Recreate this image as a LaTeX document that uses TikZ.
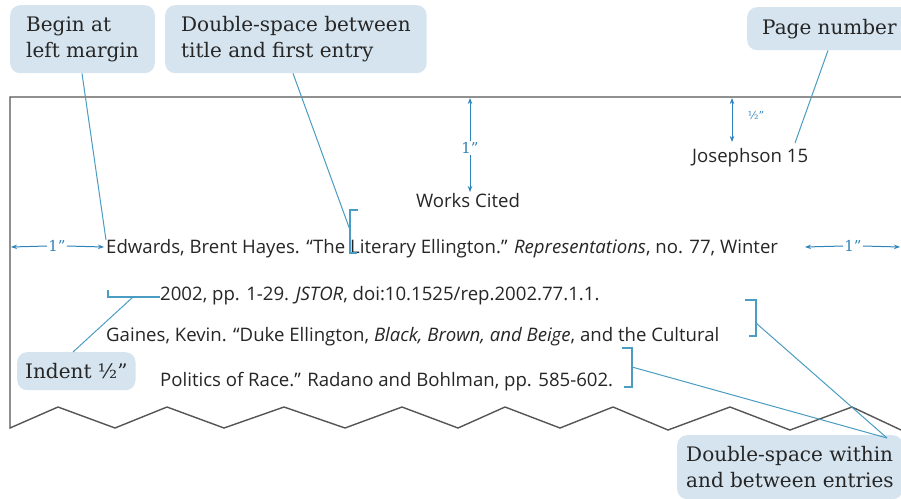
\documentclass[tikz,border=0pt]{standalone}
\usepackage{fontspec}
\setmainfont{DejaVu Serif}
\setsansfont{Open Sans}
\usetikzlibrary{arrows.meta}
\definecolor{callfill}{HTML}{D5E4EF}
\definecolor{leader}{HTML}{4A9CC2}
\definecolor{dimblue}{HTML}{2E84BA}
\definecolor{pageline}{HTML}{555555}
\definecolor{doctext}{HTML}{262626}
\tikzset{
  callout/.style={fill=callfill, rounded corners=10pt, text=doctext, align=left,
    font=\fontsize{20}{26}\selectfont, anchor=north west, inner ysep=0pt},
  docline/.style={anchor=base west, inner sep=0pt, text=doctext,
    font=\sffamily\fontsize{18.6}{20}\selectfont},
  leaderline/.style={draw=leader, line width=1pt},
  bracketline/.style={draw=leader, line width=1.2pt},
  dimarrow/.style={draw=dimblue, line width=1pt, -{Stealth[length=6pt,width=4.5pt]}},
  dimlabel/.style={text=dimblue, font=\fontsize{15}{15}\selectfont, inner sep=1pt},
  pageedge/.style={draw=pageline, line width=1.4pt, line join=miter}
}
\begin{document}
\begin{tikzpicture}[x=1pt,y=-1pt]
\useasboundingbox (0,0) rectangle (901,498);
\fill[white] (0,0) rectangle (901,498);

% page outline with torn (zigzag) bottom
\draw[pageedge] (901,97) -- (10,97) -- (10,428) -- (58,407) -- (115,428) -- (167,407)
  -- (224,428) -- (284,407) -- (345,428) -- (402,407) -- (458,428) -- (505,407)
  -- (560,428) -- (613,407) -- (668,430) -- (730,407) -- (790,430) -- (852,407) -- (901,430);

% callouts
\node[callout, minimum height=68pt, inner xsep=16pt]
  (begin) at (10,5) {Begin at\\left margin};
\node[callout, minimum height=68pt, inner xsep=16pt]
  (dsbetween) at (165,5) {Double-space between\\title and first entry};
\node[callout, minimum height=43pt, inner xsep=15pt]
  (pagenum) at (747,7) {Page number};
\node[callout, minimum height=38pt, inner xsep=8pt]
  (indent) at (17,352) {Indent ½”};
\node[callout, minimum height=64pt, inner xsep=9pt]
  (within) at (677,435) {Double-space within\\and between entries};

% document text
\node[anchor=base, inner sep=0pt, text=doctext, font=\sffamily\fontsize{18.6}{20}\selectfont]
  (title) at (468,207) {Works Cited};
\node[docline] (pnum) at (692,162) {Josephson 15};
\node[docline] (l1) at (106,253) {Edwards, Brent Hayes. “The Literary Ellington.” \textit{Representations}, no. 77, Winter};
\node[docline] (l2) at (160,300) {2002, pp. 1-29. \textit{JSTOR}, doi:10.1525/rep.2002.77.1.1.};
\node[docline] (l3) at (106,341) {Gaines, Kevin. “Duke Ellington, \textit{Black, Brown, and Beige}, and the Cultural};
\node[docline] (l4) at (160,386) {Politics of Race.” Radano and Bohlman, pp. 585-602.};

% dimension marks
\node[dimlabel] (topone) at (470,148) {1”};
\coordinate (toptip) at (470,98);
\coordinate (titletip) at (470,192);
\draw[dimarrow] (topone.north) -- (toptip);
\draw[dimarrow] (topone.south) -- (titletip);

\node[dimlabel] (leftone) at (57,246) {1”};
\coordinate (leftedge) at (11,247);
\coordinate (lefttext) at (104,247);
\draw[dimarrow] (leftone.west) -- (leftedge);
\draw[dimarrow] (leftone.east) -- (lefttext);

\node[dimlabel] (rightone) at (853,246) {1”};
\coordinate (righttext) at (805,247);
\coordinate (rightedge) at (900,247);
\draw[dimarrow] (rightone.west) -- (righttext);
\draw[dimarrow] (rightone.east) -- (rightedge);

\node[dimlabel, font=\fontsize{11}{11}\selectfont] (half) at (756,115) {½”};
\coordinate (halftop) at (732,98);
\coordinate (halfbot) at (732,142);
\draw[draw=dimblue, line width=1pt, {Stealth[length=6pt,width=4.5pt]}-{Stealth[length=6pt,width=4.5pt]}] (halftop) -- (halfbot);

% brackets
\draw[bracketline] (358,210) -- (350,210) -- (350,253) -- (357,253);
\draw[bracketline] (108,290) -- (108,297) -- (160,297);
\draw[bracketline] (745,300) -- (756,300) -- (756,336) -- (749,336);
\draw[bracketline] (622,348) -- (632,348) -- (632,387) -- (624,387);

% leader endpoints
\coordinate (beginend) at (106,240);
\coordinate (titlebr) at (350,230);
\coordinate (pnumend) at (795,143);
\coordinate (indentbr) at (133,297);
\coordinate (rbr1) at (756,323);
\coordinate (rbr2) at (632,367);
\coordinate (withinpt) at (887,438);

\draw[leaderline] (begin.south west) ++(72,0) -- (beginend);
\draw[leaderline] (dsbetween.south west) ++(128,0) -- (titlebr);
\draw[leaderline] (pagenum.south west) ++(81,0) -- (pnumend);
\draw[leaderline] (indent.north west) ++(56,0) -- (indentbr);
\draw[leaderline] (withinpt) -- (rbr1);
\draw[leaderline] (withinpt) -- (rbr2);
\end{tikzpicture}
\end{document}
